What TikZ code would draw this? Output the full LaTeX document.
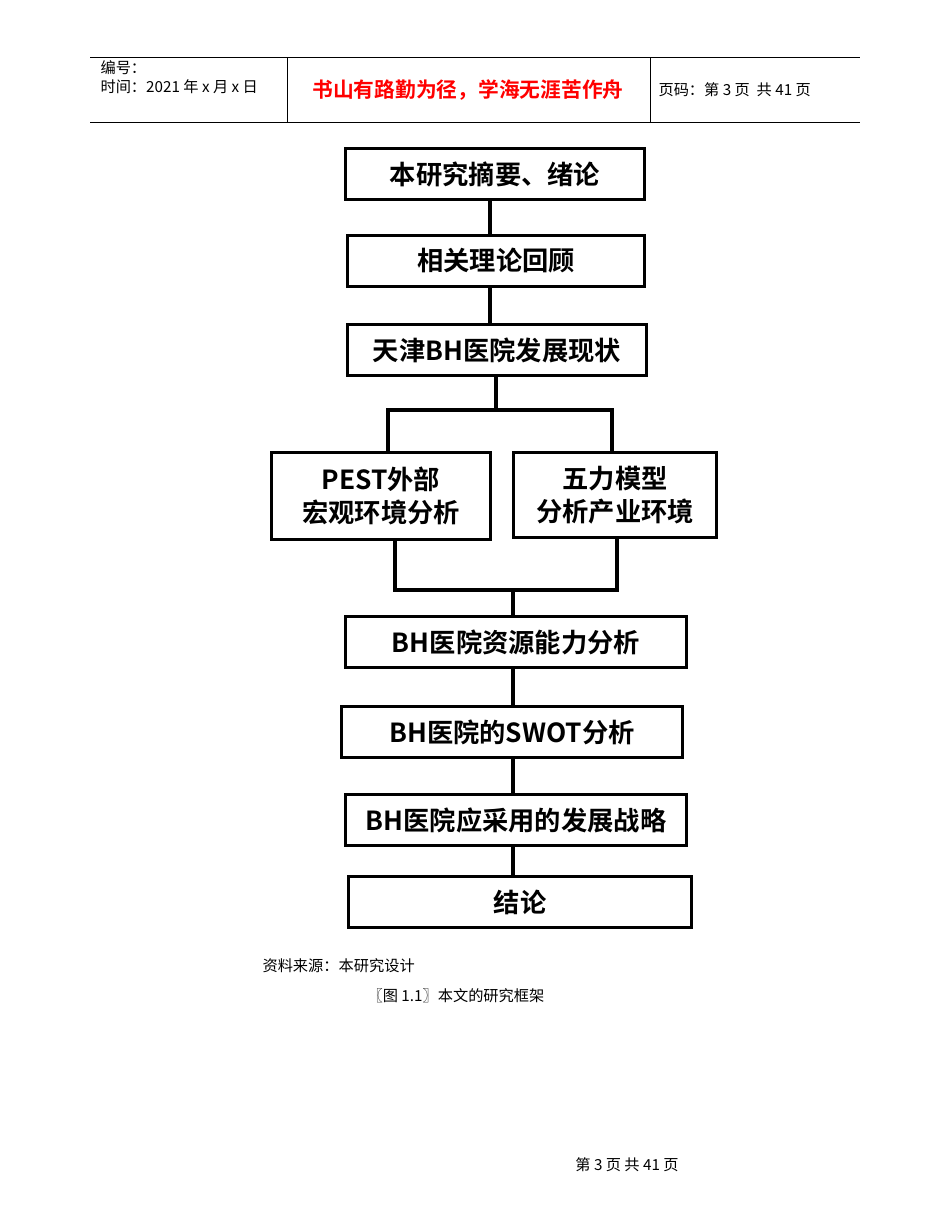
\documentclass[tikz,border=0pt]{standalone}
\usepackage{fontspec}
\setmainfont{Noto Sans CJK SC}
\newfontfamily\cjkbold{Noto Sans CJK SC Bold}
\usetikzlibrary{positioning}

\begin{document}
\begin{tikzpicture}[x=0.0254cm, y=-0.0254cm,
 thick, step box/.style={draw, line width=2.2pt, inner sep=0pt, align=center, font=\cjkbold\fontsize{19}{24}\selectfont},
 size/.style n args={2}{minimum width=#1*0.72pt, minimum height=#2*0.72pt},
 wire/.style={line width=2.2pt},
 small text/.style={font=\fontsize{11}{13}\selectfont, inner sep=0pt}]

  \useasboundingbox (0,0) rectangle (950,1230);

  % header table
  \draw[line width=0.6pt] (90,57) -- (860,57) (90,122) -- (860,122) (287,57) -- (287,122) (650,57) -- (650,122);
  \node[small text, anchor=west] (num) at (100,68) {编号：};
  \node[small text, anchor=west] (date) at (100,87) {时间：2021 年 x 月 x 日};
  \node[font=\cjkbold\fontsize{15}{18}\selectfont, text=red] (motto) at (468,90) {书山有路勤为径，学海无涯苦作舟};
  \node[small text, anchor=west] (page) at (658,90) {页码：第 3 页\ \ 共 41 页};

  % boxes
  \node[step box, size={300}{52}] (1) at (495,174) {本研究摘要、绪论};
  \node[step box, size={298}{51}] (2) at (496,261) {相关理论回顾};
  \node[step box, size={300}{52}] (3) at (497,350) {天津BH医院发展现状};
  \node[step box, size={220}{87}] (4) at (381,496) {PEST外部\\宏观环境分析};
  \node[step box, size={204}{85}] (5) at (615,495) {五力模型\\分析产业环境};
  \node[step box, size={342}{51}] (6) at (516,642) {BH医院资源能力分析};
  \node[step box, size={342}{52}] (7) at (512,732) {BH医院的SWOT分析};
  \node[step box, size={343}{52}] (8) at (516,820) {BH医院应采用的发展战略};
  \node[step box, size={344}{51}] (9) at (520,902) {结论};

  \coordinate (split) at (496,410);
  \coordinate (join) at (513,590);

  % connectors
  \draw[wire] (1.south -| 490,0) -- (2.north -| 490,0);
  \draw[wire] (2.south -| 490,0) -- (3.north -| 490,0);
  \draw[wire] (3.south -| split) -- (split);
  \draw[wire] (4.north -| 388,0) |- (split) -| (5.north -| 612,0);
  \draw[wire] (4.south -| 395,0) |- (join) -| (5.south -| 617,0);
  \draw[wire] (join) -- (6.north -| join);
  \foreach \s/\t in {6/7, 7/8, 8/9} {
   \draw[wire] (\s.south -| 513,0) -- (\t.north -| 513,0);}

  % captions
  \node[small text, anchor=west] (source) at (262,966) {资料来源：本研究设计};
  \node[small text] (caption) at (456,996) {〖图 1.1〗本文的研究框架};
  \node[small text] (footer) at (627,1165) {第 3 页 共 41 页};
\end{tikzpicture}
\end{document}
